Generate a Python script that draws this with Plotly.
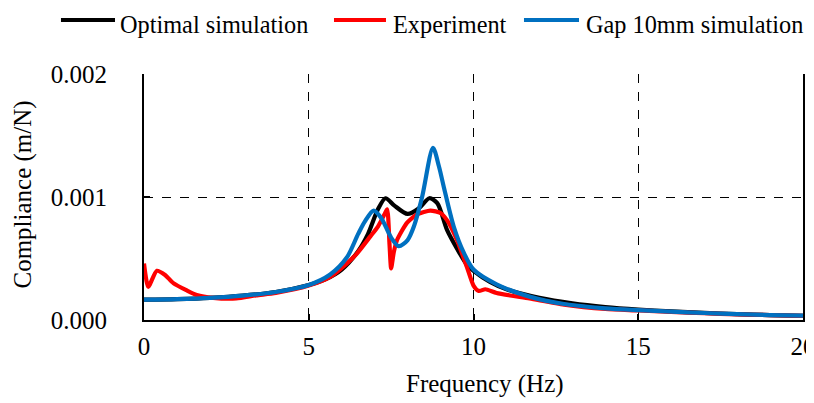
import plotly.graph_objects as go

# Optimal simulation
f_opt = [0, 1, 2, 3, 4, 5, 5.5, 6, 6.5, 6.8, 7.1, 7.33, 7.6, 8.0, 8.35, 8.66, 8.9, 9.2, 9.5, 9.8, 10, 10.5, 11, 12, 13, 14, 15, 16, 17, 18, 19, 20]
c_opt = [0.165, 0.17, 0.18, 0.198, 0.228, 0.285, 0.33, 0.41, 0.56, 0.70, 0.90, 0.99, 0.93, 0.862, 0.91, 0.99, 0.95, 0.73, 0.58, 0.45, 0.40, 0.31, 0.25, 0.18, 0.135, 0.105, 0.085, 0.07, 0.058, 0.048, 0.04, 0.033]

# Experiment
f_exp = [0, 0.13, 0.39, 0.64, 0.89, 1.3, 1.6, 2.1, 2.8, 3.4, 4, 5, 5.65, 6.16, 6.46, 6.87, 7.1, 7.3, 7.38, 7.45, 7.5, 7.58, 7.68, 7.98, 8.3, 8.69, 9.0, 9.2, 9.5, 9.8, 10.0, 10.16, 10.36, 10.7, 11.7, 12.75, 14, 15, 16, 17, 18, 19, 20]
c_exp = [0.46, 0.27, 0.40, 0.366, 0.30, 0.24, 0.203, 0.18, 0.175, 0.20, 0.22, 0.28, 0.35, 0.46, 0.54, 0.68, 0.76, 0.86, 0.90, 0.62, 0.42, 0.55, 0.65, 0.79, 0.86, 0.89, 0.87, 0.81, 0.65, 0.43, 0.28, 0.236, 0.25, 0.22, 0.175, 0.125, 0.09, 0.078, 0.065, 0.055, 0.045, 0.04, 0.033]

# Gap 10mm simulation
f_gap = [0, 1, 2, 3, 4, 5, 5.65, 6.16, 6.5, 6.7, 6.97, 7.2, 7.5, 7.73, 8.0, 8.19, 8.44, 8.77, 8.95, 9.1, 9.4, 9.7, 10, 10.7, 11.7, 12.75, 14, 15, 16, 17, 18, 19, 20]
c_gap = [0.165, 0.17, 0.18, 0.198, 0.228, 0.285, 0.37, 0.51, 0.70, 0.80, 0.89, 0.83, 0.67, 0.60, 0.65, 0.76, 1.0, 1.40, 1.25, 1.08, 0.76, 0.55, 0.41, 0.29, 0.19, 0.13, 0.095, 0.08, 0.068, 0.057, 0.048, 0.04, 0.035]

x_ticks = [0, 5, 10, 15, 20]
y_ticks = [0.000, 0.001, 0.002]

series_names = ["Optimal simulation", "Experiment", "Gap 10mm simulation"]
series_colors = ["#000000", "#FF0000", "#0070C0"]

def scale(vals):
    return [v / 1000.0 for v in vals]

FONT = "Liberation Serif, Times New Roman, serif"
FS = 25

fig = go.Figure()
data = [(f_opt, c_opt, 0.8), (f_exp, c_exp, 0.6), (f_gap, c_gap, 0.8)]
for (fx, cy, sm), name, col in zip(data, series_names, series_colors):
    fig.add_trace(go.Scatter(x=fx, y=scale(cy), mode="lines", name=name, showlegend=False,
                             line=dict(color=col, width=4.2, shape="spline", smoothing=sm)))

# custom legend (line sample + label) above the plot, in paper coordinates
leg_y = 1.2195
leg_text_y = 1.200
leg_items = [(-0.126, -0.044, -0.040), (0.2883, 0.3672, 0.3748), (0.5766, 0.6601, 0.6677)]
for (x0, x1, xt), name, col in zip(leg_items, series_names, series_colors):
    fig.add_shape(type="line", xref="paper", yref="paper", x0=x0, x1=x1, y0=leg_y, y1=leg_y,
                  line=dict(color=col, width=4))
    fig.add_annotation(xref="paper", yref="paper", x=xt, y=leg_text_y, text=name, showarrow=False,
                       xanchor="left", yanchor="middle", font=dict(size=24.3, family=FONT, color="black"))

# axis titles
fig.add_annotation(xref="paper", yref="paper", x=0.5175, y=-0.262, text="Frequency (Hz)", showarrow=False,
                   xanchor="center", yanchor="middle", font=dict(size=FS, family=FONT, color="black"))
fig.add_annotation(xref="paper", yref="paper", x=-0.1836, y=0.51, text="Compliance (m/N)", showarrow=False,
                   textangle=-90, xanchor="center", yanchor="middle", font=dict(size=FS, family=FONT, color="black"))

# the page puts the figure 8px in from the top-left corner, so the figure is 8px smaller
fig.update_layout(
    width=806, height=395,
    margin=dict(l=136, r=11, t=66, b=83),
    paper_bgcolor="white", plot_bgcolor="white",
    font=dict(family=FONT, size=FS, color="black"),
    showlegend=False,
    xaxis=dict(range=[0, 20], tickvals=x_ticks, ticks="inside", ticklen=6, tickcolor="black",
               tickwidth=1.5, showline=True, linecolor="black", linewidth=2,
               showgrid=True, gridcolor="black", griddash="dash", gridwidth=1,
               zeroline=False, tickfont=dict(size=FS), ticklabelstandoff=3, automargin=False,
               ticklabeloverflow="allow"),
    yaxis=dict(range=[0, 0.002], tickvals=y_ticks, tickformat=".3f", ticks="inside", ticklen=6,
               tickcolor="black", tickwidth=1.5, showline=True, linecolor="black", linewidth=2,
               mirror=True, showgrid=True, gridcolor="black", griddash="dash", gridwidth=1,
               zeroline=False, tickfont=dict(size=FS), ticklabelstandoff=30, automargin=False),
)

fig.write_html("out.html")
